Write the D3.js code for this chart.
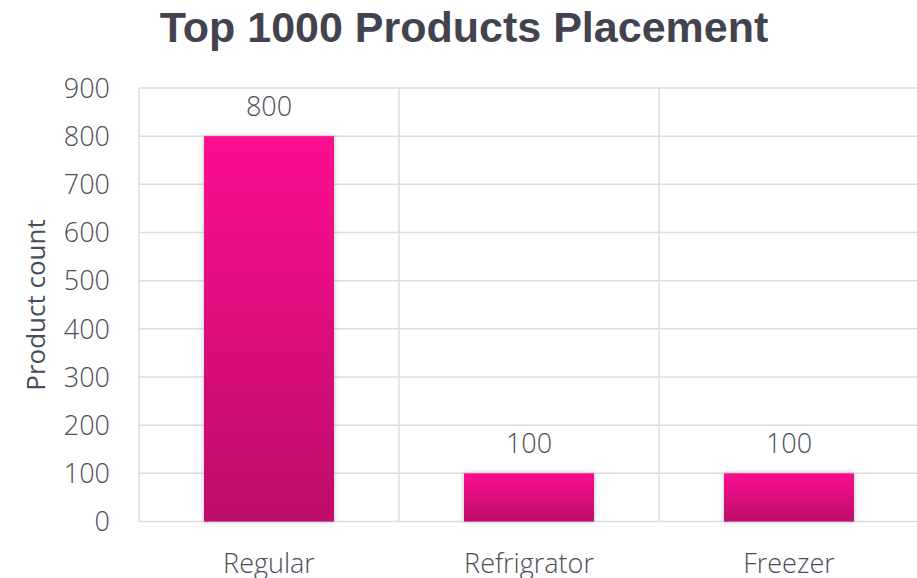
<!DOCTYPE html>
<html><head><meta charset="utf-8">
<script src="https://cdn.jsdelivr.net/npm/d3@7"></script>
<style>body{margin:0;background:#fff}svg{display:block}</style>
</head><body>
<script>
const categories = ["Regular", "Refrigrator", "Freezer"];
const values = [800, 100, 100];
const yTicks = [0, 100, 200, 300, 400, 500, 600, 700, 800, 900];
const titleText = "Top 1000 Products Placement";
const yLabel = "Product count";

const W = 917, H = 578;
const m = {left: 139, top: 88, right: -2, bottom: 56};
const svg = d3.select("body").append("svg").attr("width", W).attr("height", H);
const defs = svg.append("defs");
const grad = defs.append("linearGradient").attr("id", "g").attr("x1", 0).attr("y1", 0).attr("x2", 0).attr("y2", 1);
grad.append("stop").attr("offset", "0%").attr("stop-color", "#fd0f8f");
grad.append("stop").attr("offset", "100%").attr("stop-color", "#bd0c6b");
const f = defs.append("filter").attr("id", "sh").attr("x", "-20%").attr("y", "-20%").attr("width", "140%").attr("height", "140%");
f.append("feDropShadow").attr("dx", 0).attr("dy", 0).attr("stdDeviation", 2.5).attr("flood-color", "#000").attr("flood-opacity", 0.25);

const x = d3.scaleBand().domain(categories).range([m.left, W - m.right]).paddingInner(0).paddingOuter(0);
const y = d3.scaleLinear().domain([0, 900]).range([H - m.bottom - 0.5, m.top]);
const font = "'Open Sans', sans-serif";
const fw = 300;
const fs = 27;
const txt = "#4a4c58";

// horizontal grid
svg.append("g").selectAll("line").data(yTicks).join("line")
  .attr("x1", m.left).attr("x2", W).attr("y1", d => y(d)).attr("y2", d => y(d))
  .attr("stroke", "#dcdce0").attr("stroke-width", 1.5);
// vertical grid
svg.append("g").selectAll("line").data(categories).join("line")
  .attr("x1", d => x(d)).attr("x2", d => x(d)).attr("y1", y(900)).attr("y2", y(0))
  .attr("stroke", "#dcdce0").attr("stroke-width", 1.5);

// bars
svg.append("g").selectAll("rect").data(values).join("rect")
  .attr("x", (d, i) => x(categories[i]) + x.bandwidth() * 0.25)
  .attr("width", x.bandwidth() * 0.5)
  .attr("y", d => y(d)).attr("height", d => y(0) - y(d))
  .attr("fill", "url(#g)").attr("filter", "url(#sh)");

// value labels
svg.append("g").selectAll("text").data(values).join("text")
  .attr("x", (d, i) => x(categories[i]) + x.bandwidth() / 2)
  .attr("y", d => y(d) - 20)
  .attr("text-anchor", "middle").attr("font-family", font).attr("font-weight", fw).attr("font-size", fs)
  .attr("fill", txt).text(d => d);

// y tick labels
svg.append("g").selectAll("text").data(yTicks).join("text")
  .attr("x", 110).attr("y", d => y(d)).attr("dy", "0.36em")
  .attr("text-anchor", "end").attr("font-family", font).attr("font-weight", fw).attr("font-size", fs)
  .attr("fill", txt).text(d => d);

// category labels
svg.append("g").selectAll("text").data(categories).join("text")
  .attr("x", d => x(d) + x.bandwidth() / 2).attr("y", 573)
  .attr("text-anchor", "middle").attr("font-family", font).attr("font-weight", fw).attr("font-size", fs)
  .attr("fill", txt).text(d => d);

// y axis label
svg.append("text").attr("transform", "translate(45,305) rotate(-90)")
  .attr("text-anchor", "middle").attr("font-family", font).attr("font-weight", 400).attr("font-size", fs - 1)
  .attr("fill", txt).text(yLabel);

// title
svg.append("text").attr("x", 464).attr("y", 42).attr("text-anchor", "middle")
  .attr("font-family", "'Liberation Sans', Arial, sans-serif").attr("font-weight", "bold")
  .attr("font-size", 43).attr("fill", "#43434f").text(titleText);
</script>
</body></html>
